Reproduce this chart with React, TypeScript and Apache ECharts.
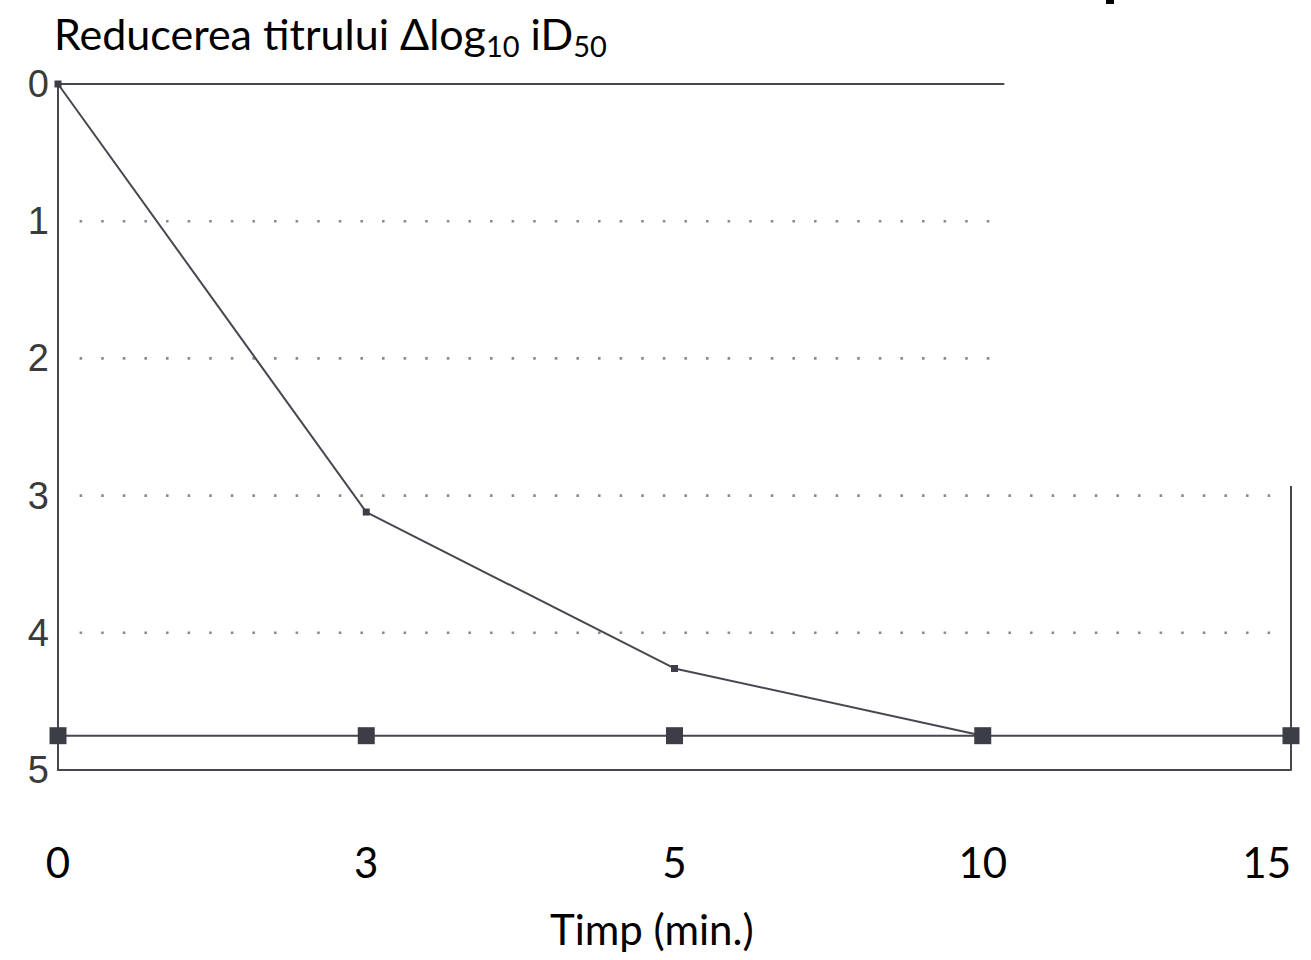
import React, { useEffect, useRef } from "react";
import * as echarts from "echarts";

const xLabels = ["0", "3", "5", "10", "15"];
const yTicks = [0, 1, 2, 3, 4, 5];
// reduction of titre (Δlog10 iD50) at each time point (index positions 0..4)
const reductionSeries = [0, 3.12, 4.26, 4.75];
const limitSeries = [4.75, 4.75, 4.75, 4.75, 4.75];
// frame lines and dotted reference levels (in axis units)
const topLine = [[0, 0], [3.07, 0]];
const rightLine = [[4, 2.93], [4, 5]];
const dottedShort = [1, 2];
const dottedLong = [3, 4];
const dottedStart = 0.07;
const dottedShortEnd = 3.07;
const dottedLongEnd = 3.97;

export default function App() {
  const ref = useRef<HTMLDivElement>(null);
  useEffect(() => {
    if (!ref.current) return;
    const chart = echarts.init(ref.current, null, { renderer: "svg" });
    const lineColor = "#474750";
    const dotted = (levels: number[], end: number) =>
      levels.map((lv) => ({
        type: "line",
        data: [[dottedStart, lv], [end, lv]],
        symbol: "none",
        silent: true,
        lineStyle: { color: "#8c8c8c", width: 2.6, type: [2.6, 19] },
        z: 1,
      }));
    chart.setOption({
      animation: false,
      backgroundColor: "#ffffff",
      grid: {
        left: 58,
        right: 20,
        top: 84,
        height: 686,
        containLabel: false,
        outerBoundsMode: "none",
      },
      xAxis: {
        type: "value",
        min: 0,
        max: 4,
        interval: 1,
        axisLine: { show: true, onZero: false, lineStyle: { color: lineColor, width: 2 } },
        axisTick: { show: false },
        splitLine: { show: false },
        axisLabel: {
          margin: 71,
          fontSize: 42,
          color: "#000",
          fontFamily: "Lato",
          alignMaxLabel: "right",
          formatter: (v: number) => xLabels[Math.round(v)] ?? "",
        },
      },
      yAxis: {
        type: "value",
        inverse: true,
        min: 0,
        max: 5,
        interval: 1,
        axisLine: { show: true, onZero: false, lineStyle: { color: lineColor, width: 2 } },
        axisTick: { show: false },
        splitLine: { show: false },
        axisLabel: {
          margin: 9,
          fontSize: 38,
          color: "#3a3a3a",
          fontFamily: "Liberation Sans",
          padding: [8, 0, 0, 0],
          formatter: (v: number) => (yTicks.includes(v) ? String(v) : ""),
        },
      },
      series: [
        ...dotted(dottedShort, dottedShortEnd),
        ...dotted(dottedLong, dottedLongEnd),
        {
          type: "line",
          data: topLine,
          symbol: "none",
          silent: true,
          lineStyle: { color: lineColor, width: 2 },
          z: 2,
        },
        {
          type: "line",
          data: rightLine,
          symbol: "none",
          silent: true,
          lineStyle: { color: lineColor, width: 2 },
          z: 2,
        },
        {
          type: "line",
          data: reductionSeries.map((v, i) => [i, v]),
          symbol: "rect",
          symbolSize: 7,
          itemStyle: { color: "#3d3d48" },
          lineStyle: { color: lineColor, width: 2 },
          z: 3,
        },
        {
          type: "line",
          data: limitSeries.map((v, i) => [i, v]),
          symbol: "rect",
          symbolSize: 17,
          itemStyle: { color: "#3d3d48" },
          lineStyle: { color: lineColor, width: 2 },
          z: 4,
        },
      ],
      graphic: [
        {
          type: "text",
          left: 54,
          top: 12,
          style: {
            text: "{a|Reducerea titrului Δlog}{s|10}{a| iD}{s|50}",
            rich: {
              a: { fontSize: 43, fontFamily: "Lato", color: "#000", lineHeight: 52 },
              s: {
                fontSize: 29,
                fontFamily: "Lato",
                color: "#000",
                lineHeight: 28,
                verticalAlign: "bottom",
              },
            },
          },
        },
        {
          type: "text",
          left: 550,
          top: 908,
          style: {
            text: "Timp (min.)",
            fontSize: 42,
            fontFamily: "Lato",
            fill: "#000",
          },
        },
        {
          type: "rect",
          shape: { x: 1106, y: 0, width: 8, height: 4 },
          style: { fill: "#000" },
        },
      ],
    });
    return () => chart.dispose();
  }, []);
  return (
    <div
      ref={ref}
      style={{ position: "fixed", left: 0, top: 0, width: 1311, height: 960 }}
    />
  );
}
